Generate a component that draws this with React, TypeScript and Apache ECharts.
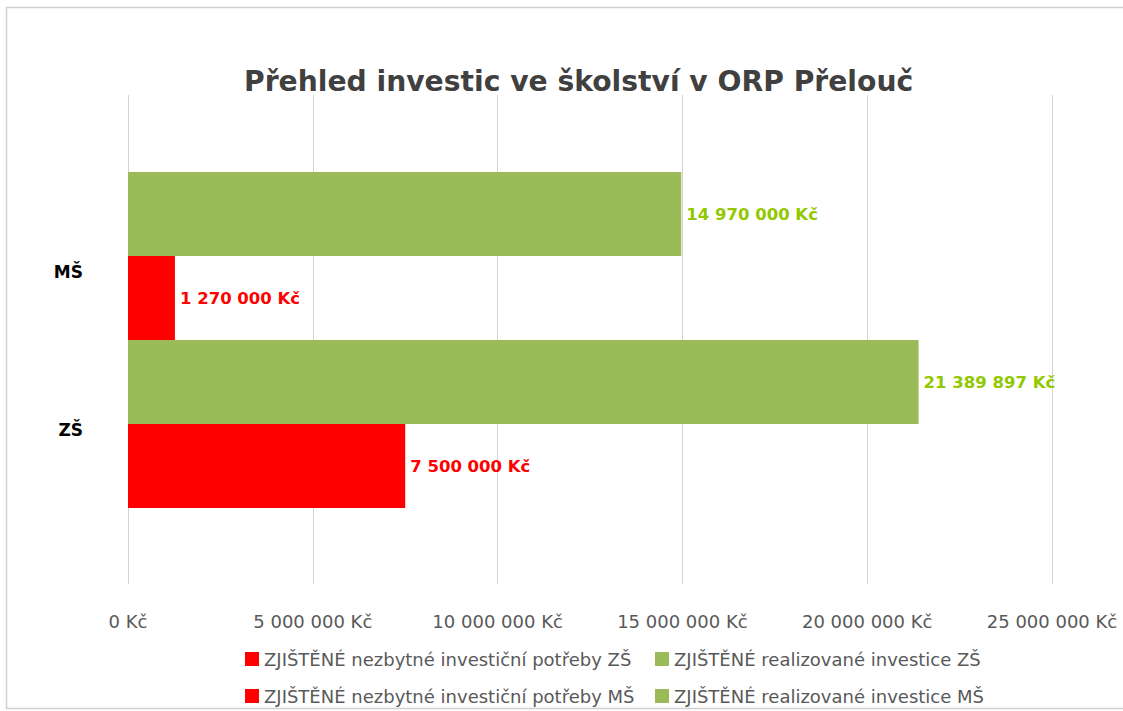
import React, { useEffect, useRef } from "react";
import * as echarts from "echarts";

const categories = ["ZŠ", "MŠ"];
const potrebyZS = [7500000, null];
const realizovaneZS = [21389897, null];
const potrebyMS = [null, 1270000];
const realizovaneMS = [null, 14970000];
const axisMin = 0;
const axisMax = 25000000;
const axisStep = 5000000;

const names = [
  "ZJIŠTĚNÉ nezbytné investiční potřeby ZŠ",
  "ZJIŠTĚNÉ realizované investice ZŠ",
  "ZJIŠTĚNÉ nezbytné investiční potřeby MŠ",
  "ZJIŠTĚNÉ realizované investice MŠ",
];

const RED = "#FF0000";
const GREEN = "#9BBB59";
const GREEN_LABEL = "#92C800";
const FONT = "DejaVu Sans";

const fmt = (v: number) =>
  String(Math.round(v)).replace(/\B(?=(\d{3})+(?!\d))/g, " ") + " Kč";

export default function App() {
  const ref = useRef<HTMLDivElement>(null);
  useEffect(() => {
    const chart = echarts.init(ref.current!, null, { renderer: "svg" });
    const barLabel = (color: string) => ({
      show: true,
      position: "right",
      distance: 5,
      color,
      fontFamily: FONT,
      fontWeight: "bold",
      fontSize: 16.5,
      formatter: (p: any) => fmt(p.value),
    });
    const legendBase = {
      orient: "vertical",
      padding: 0,
      itemWidth: 14,
      itemHeight: 14,
      itemGap: 4,
      icon: "rect",
      textStyle: { fontFamily: FONT, fontSize: 18, color: "#595959", lineHeight: 20 },
    };
    const barSeries = (name: string, stack: string, data: (number | null)[], color: string, labelColor: string) => ({
      name,
      type: "bar",
      xAxisIndex: 1,
      yAxisIndex: 1,
      stack,
      data,
      itemStyle: { color },
      barCategoryGap: 0,
      barGap: 0,
      label: barLabel(labelColor),
    });
    chart.setOption({
      animation: false,
      backgroundColor: "#ffffff",
      title: {
        text: "Přehled investic ve školství v ORP Přelouč",
        left: 239,
        top: 62,
        textStyle: { fontFamily: FONT, fontWeight: "bold", fontSize: 28.2, color: "#404040" },
      },
      graphic: [
        {
          type: "rect",
          shape: { x: 6.5, y: 7.5, width: 1200, height: 701 },
          style: { fill: "none", stroke: "#D0D0D0", lineWidth: 1.5 },
          silent: true,
        },
      ],
      legend: [
        { ...legendBase, data: [names[0]], left: 245, top: 649 },
        { ...legendBase, data: [names[1]], left: 655, top: 649 },
        { ...legendBase, data: [names[2]], left: 245, top: 686 },
        { ...legendBase, data: [names[3]], left: 655, top: 686 },
      ],
      grid: [
        { left: 128, right: 71, top: 95, bottom: 127, containLabel: false },
        { left: 128, right: 71, top: 172, height: 336, containLabel: false },
      ],
      xAxis: [
        {
          type: "value",
          gridIndex: 0,
          min: axisMin,
          max: axisMax,
          interval: axisStep,
          axisLine: { show: false },
          axisTick: { show: false },
          splitLine: { show: true, lineStyle: { color: "#D4D4D4", width: 1 } },
          axisLabel: {
            margin: 28,
            fontFamily: FONT,
            fontSize: 18,
            color: "#595959",
            formatter: (v: number) => fmt(v),
          },
        },
        {
          type: "value",
          gridIndex: 1,
          min: axisMin,
          max: axisMax,
          interval: axisStep,
          show: false,
          splitLine: { show: false },
        },
      ],
      yAxis: [
        { type: "value", gridIndex: 0, show: false, splitLine: { show: false } },
        {
          type: "category",
          gridIndex: 1,
          data: categories,
          axisLine: { show: false },
          axisTick: { show: false },
          axisLabel: {
            margin: 45,
            formatter: (v: string) => (v === "MŠ" ? "{m|" + v + "}" : "{z|" + v + "}"),
            rich: {
              m: { fontFamily: FONT, fontWeight: "bold", fontSize: 17, color: "#000", padding: [32, 0, 0, 0] },
              z: { fontFamily: FONT, fontWeight: "bold", fontSize: 17, color: "#000", padding: [12, 0, 0, 0] },
            },
          },
        },
      ],
      series: [
        barSeries(names[1], "realizovane", realizovaneZS, GREEN, GREEN_LABEL),
        barSeries(names[0], "potreby", potrebyZS, RED, RED),
        barSeries(names[3], "realizovane", realizovaneMS, GREEN, GREEN_LABEL),
        barSeries(names[2], "potreby", potrebyMS, RED, RED),
      ],
    });
    return () => chart.dispose();
  }, []);
  return (
    <div
      ref={ref}
      style={{ position: "fixed", left: 0, top: 0, width: 1123, height: 711 }}
    />
  );
}
